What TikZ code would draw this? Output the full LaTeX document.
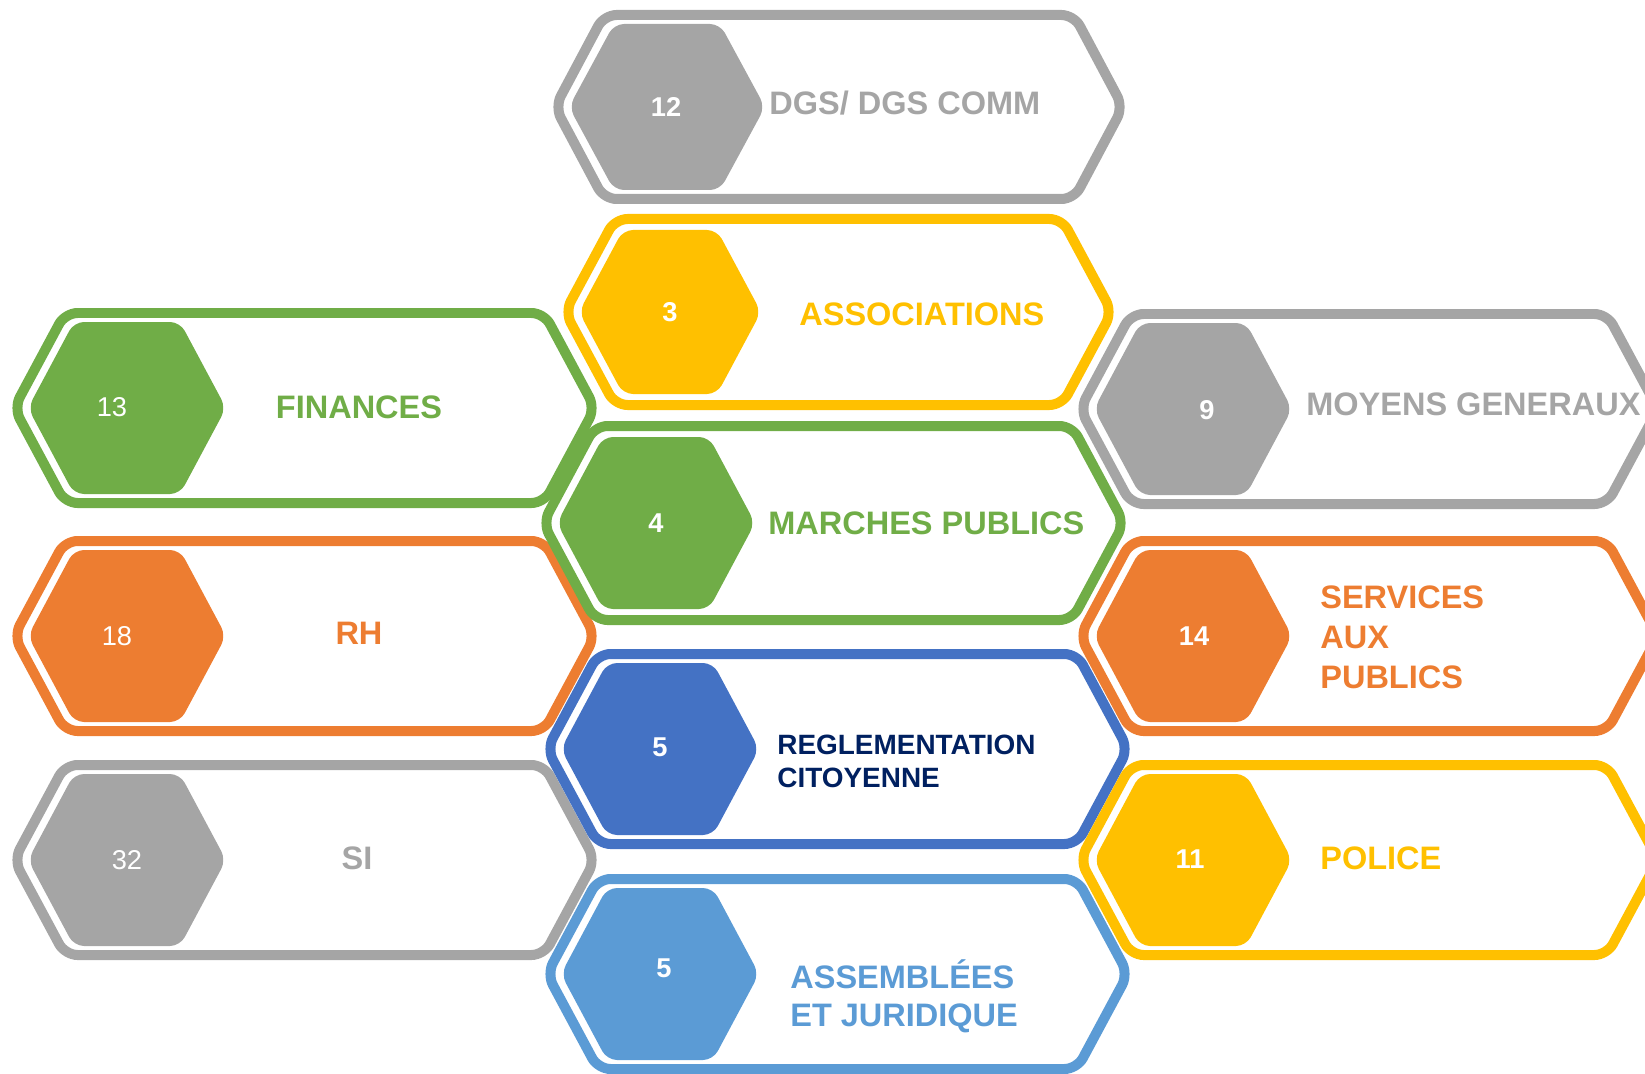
\documentclass[tikz,border=0pt]{standalone}
\usepackage{fontspec}
\setmainfont{Liberation Sans}
\definecolor{hexgray}{HTML}{A5A5A5}
\definecolor{hexyellow}{HTML}{FFC000}
\definecolor{hexgreen}{HTML}{70AD47}
\definecolor{hexorange}{HTML}{ED7D31}
\definecolor{hexblue}{HTML}{4472C4}
\definecolor{hexlightblue}{HTML}{5B9BD5}
\definecolor{hexnavy}{HTML}{002060}

\begin{document}
\begin{tikzpicture}[x=0.02cm,y=-0.02cm,
	outer/.style={draw=#1,line width=0.2cm,rounded corners=0.25cm},
	inner/.style={fill=#1,rounded corners=0.2cm},
	num/.style={text=white,inner sep=0pt,font=\fontsize{15.5}{18}\selectfont\bfseries},
	thinnum/.style={text=white,inner sep=0pt,font=\fontsize{15.5}{18}\selectfont},
	lbl/.style={text=#1,inner sep=0pt,align=left,font=\fontsize{18.5}{22}\selectfont\bfseries}]
	\useasboundingbox (0,0) rectangle (1645,1074);
	\clip (0,0) rectangle (1645,1074);
	
	%LEFT COLUMN
	\draw[outer=hexgreen] (14,408) -- ++(51,-95) -- ++(479,0) -- ++(51,95) -- ++(-51,95) -- ++(-479,0) -- cycle;
	\fill[inner=hexgreen] (28,408) -- ++(46,-86) -- ++(106,0) -- ++(46,86) -- ++(-46,86) -- ++(-106,0) -- cycle;
	\node[thinnum] (n-fin) at (112,407) {13};
	\node[lbl=hexgreen] (l-fin) at (359,407) {FINANCES};
	%
	\draw[outer=hexorange] (14,636) -- ++(51,-95) -- ++(479,0) -- ++(51,95) -- ++(-51,95) -- ++(-479,0) -- cycle;
	\fill[inner=hexorange] (28,636) -- ++(46,-86) -- ++(106,0) -- ++(46,86) -- ++(-46,86) -- ++(-106,0) -- cycle;
	\node[thinnum] (n-rh) at (117,636) {18};
	\node[lbl=hexorange] (l-rh) at (359,633) {RH};
	%
	\draw[outer=hexgray] (14,860) -- ++(51,-95) -- ++(479,0) -- ++(51,95) -- ++(-51,95) -- ++(-479,0) -- cycle;
	\fill[inner=hexgray] (28,860) -- ++(46,-86) -- ++(106,0) -- ++(46,86) -- ++(-46,86) -- ++(-106,0) -- cycle;
	\node[thinnum] (n-si) at (127,860) {32};
	\node[lbl=hexgray] (l-si) at (357,858) {SI};
	
	%CENTER COLUMN
	\draw[outer=hexgray] (555,107) -- ++(49,-92) -- ++(470,0) -- ++(49,92) -- ++(-49,92) -- ++(-470,0) -- cycle;
	\fill[inner=hexgray] (569,107) -- ++(45,-83) -- ++(106,0) -- ++(45,83) -- ++(-45,83) -- ++(-106,0) -- cycle;
	\node[num] (n-dgs) at (666,107) {12};
	\node[lbl=hexgray,anchor=west] (l-dgs) at (769,103) {DGS/ DGS COMM};
	%
	\draw[outer=hexyellow] (565,312) -- ++(50,-93) -- ++(447,0) -- ++(50,93) -- ++(-50,93) -- ++(-447,0) -- cycle;
	\fill[inner=hexyellow] (579,312) -- ++(44,-82) -- ++(94,0) -- ++(44,82) -- ++(-44,82) -- ++(-94,0) -- cycle;
	\node[num] (n-asso) at (670,312) {3};
	\node[lbl=hexyellow,anchor=west] (l-asso) at (799,314) {ASSOCIATIONS};
	%
	\draw[outer=hexgreen] (543,523) -- ++(52,-97) -- ++(477,0) -- ++(52,97) -- ++(-52,97) -- ++(-477,0) -- cycle;
	\fill[inner=hexgreen] (557,523) -- ++(46,-86) -- ++(106,0) -- ++(46,86) -- ++(-46,86) -- ++(-106,0) -- cycle;
	\node[num] (n-mp) at (656,523) {4};
	\node[lbl=hexgreen,anchor=west] (l-mp) at (768,523) {MARCHES PUBLICS};
	%
	\draw[outer=hexblue] (547,749) -- ++(51,-95) -- ++(479,0) -- ++(51,95) -- ++(-51,95) -- ++(-479,0) -- cycle;
	\fill[inner=hexblue] (561,749) -- ++(46,-86) -- ++(106,0) -- ++(46,86) -- ++(-46,86) -- ++(-106,0) -- cycle;
	\node[num] (n-regl) at (660,747) {5};
	\node[lbl=hexnavy,anchor=west,font=\fontsize{15.9}{18.8}\selectfont\bfseries] (l-regl) at (777,761) {REGLEMENTATION\\CITOYENNE};
	%
	\draw[outer=hexlightblue] (547,974) -- ++(51,-95) -- ++(479,0) -- ++(51,95) -- ++(-51,95) -- ++(-479,0) -- cycle;
	\fill[inner=hexlightblue] (561,974) -- ++(46,-86) -- ++(106,0) -- ++(46,86) -- ++(-46,86) -- ++(-106,0) -- cycle;
	\node[num] (n-assem) at (664,968) {5};
	\node[lbl=hexlightblue,anchor=west,font=\fontsize{18.5}{21.6}\selectfont\bfseries] (l-assem) at (790,996) {ASSEMBLÉES\\ET JURIDIQUE};
	
	%RIGHT COLUMN
	\draw[outer=hexgray] (1080,409) -- ++(51,-95) -- ++(476,0) -- ++(51,95) -- ++(-51,95) -- ++(-476,0) -- cycle;
	\fill[inner=hexgray] (1094,409) -- ++(46,-86) -- ++(106,0) -- ++(46,86) -- ++(-46,86) -- ++(-106,0) -- cycle;
	\node[num] (n-moy) at (1207,410) {9};
	\node[lbl=hexgray,anchor=west] (l-moy) at (1306,404) {MOYENS GENERAUX};
	%
	\draw[outer=hexorange] (1080,636) -- ++(51,-95) -- ++(476,0) -- ++(51,95) -- ++(-51,95) -- ++(-476,0) -- cycle;
	\fill[inner=hexorange] (1094,636) -- ++(46,-86) -- ++(106,0) -- ++(46,86) -- ++(-46,86) -- ++(-106,0) -- cycle;
	\node[num] (n-serv) at (1194,636) {14};
	\node[lbl=hexorange,anchor=west,font=\fontsize{18.5}{22.8}\selectfont\bfseries] (l-serv) at (1320,637) {SERVICES\\AUX\\PUBLICS};
	%
	\draw[outer=hexyellow] (1080,860) -- ++(51,-95) -- ++(476,0) -- ++(51,95) -- ++(-51,95) -- ++(-476,0) -- cycle;
	\fill[inner=hexyellow] (1094,860) -- ++(46,-86) -- ++(106,0) -- ++(46,86) -- ++(-46,86) -- ++(-106,0) -- cycle;
	\node[num] (n-pol) at (1190,859) {11};
	\node[lbl=hexyellow,anchor=west] (l-pol) at (1320,858) {POLICE};
\end{tikzpicture}
\end{document}
